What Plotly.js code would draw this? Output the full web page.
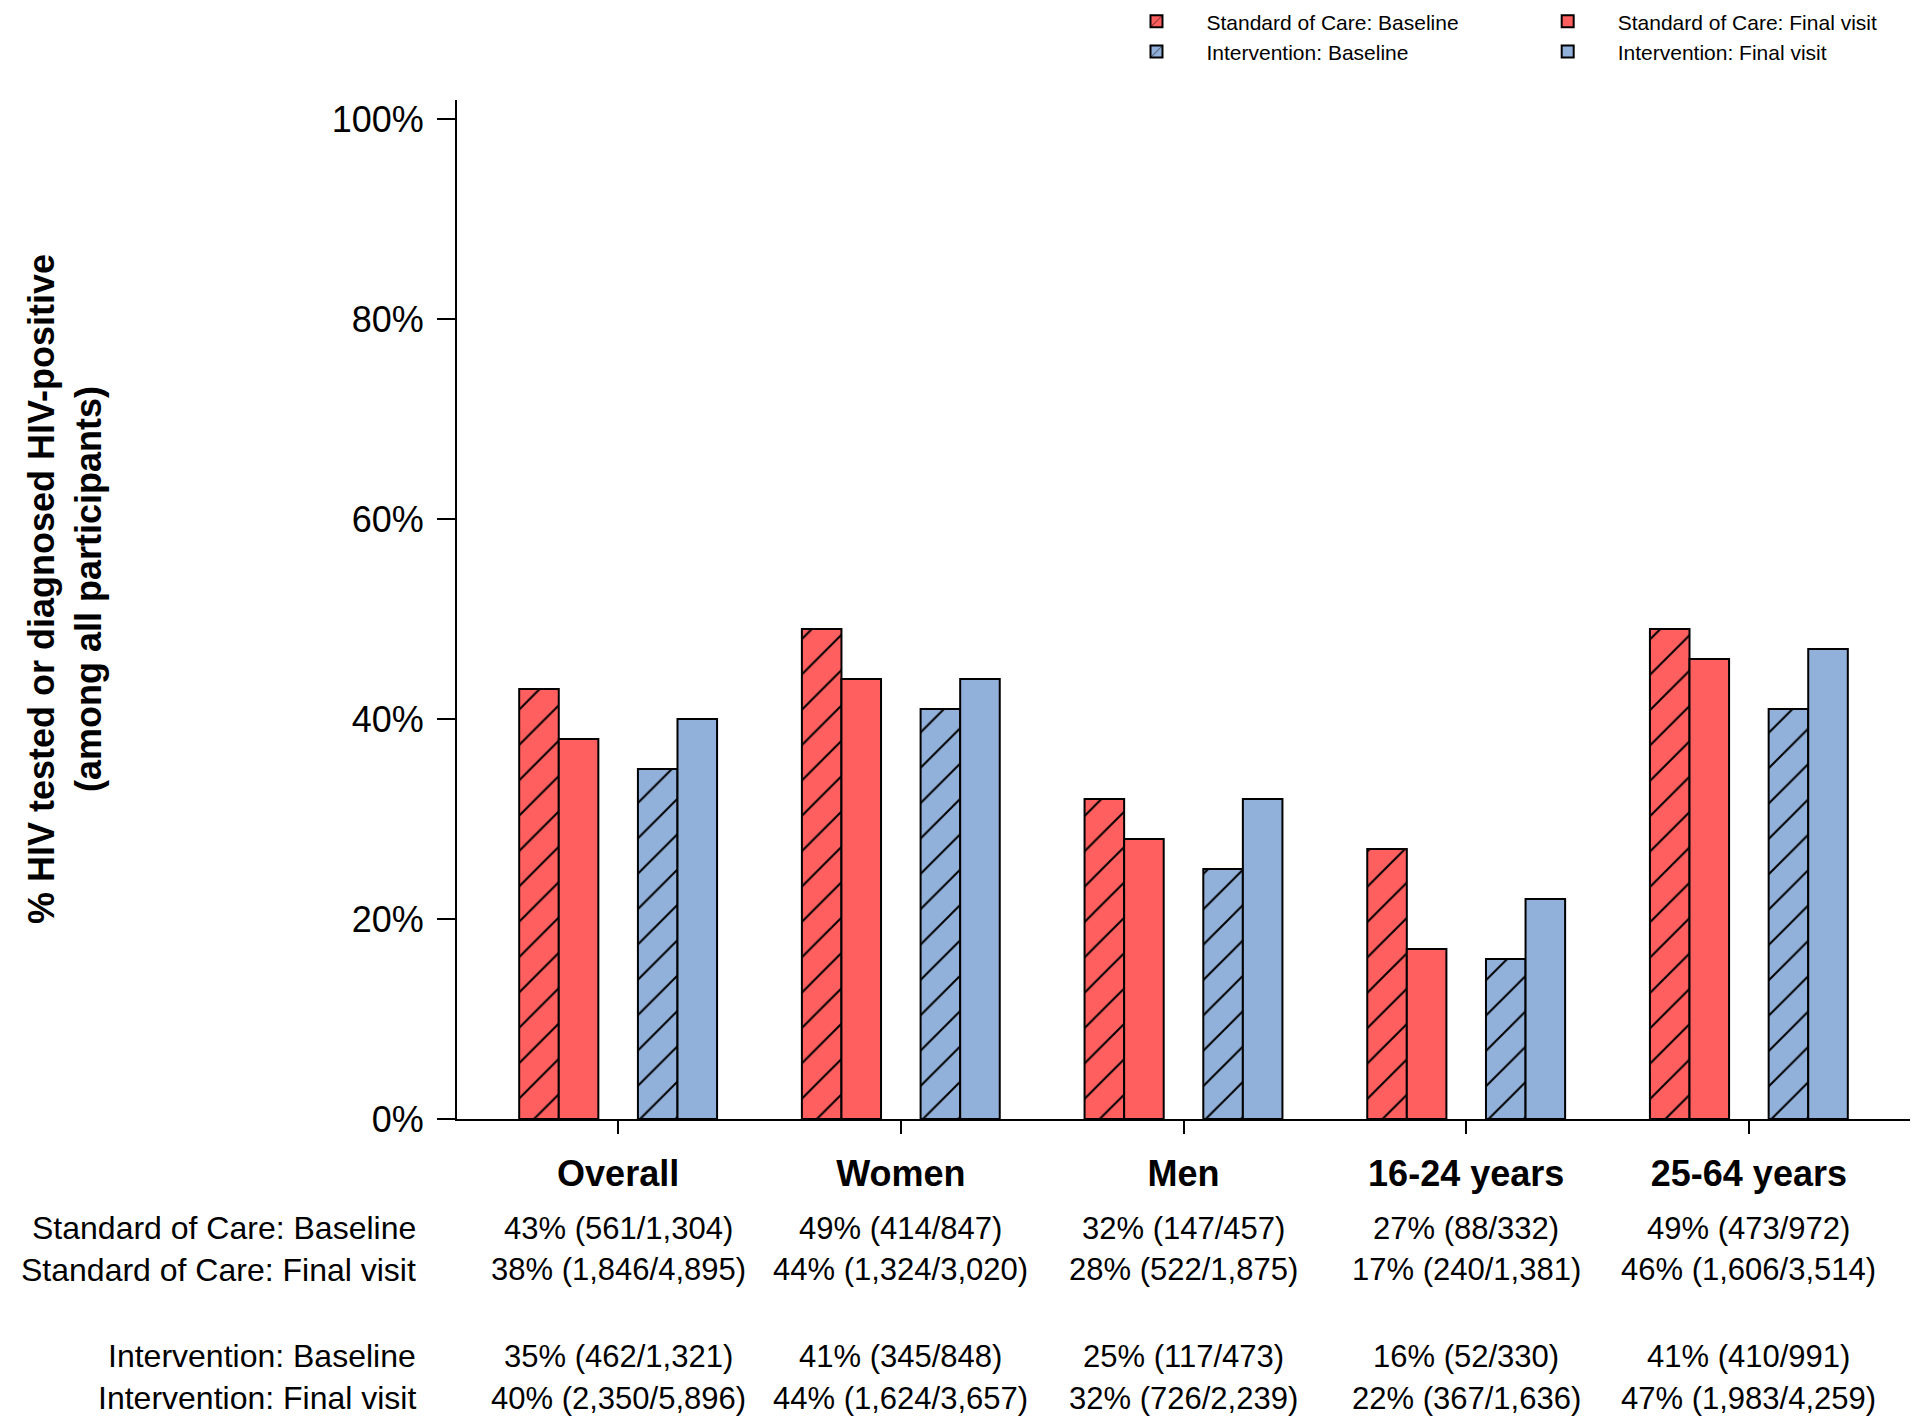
<!DOCTYPE html>
<html>
<head>
<meta charset="utf-8">
<script src="https://cdn.plot.ly/plotly-3.0.1.min.js"></script>
<style>
  body { margin: 0; background: #fff; }
  #hiv_chart { width: 1920px; height: 1424px; }
</style>
</head>
<body>
<div id="hiv_chart"></div>
<script>
var groups = ['Overall', 'Women', 'Men', '16-24 years', '25-64 years'];
var seriesNames = ['Standard of Care: Baseline', 'Standard of Care: Final visit',
                   'Intervention: Baseline', 'Intervention: Final visit'];

// percentages (bar heights)
var socBase = [43, 49, 32, 27, 49];
var socFinal = [38, 44, 28, 17, 46];
var intBase = [35, 41, 25, 16, 41];
var intFinal = [40, 44, 32, 22, 47];

// numerators / denominators for the table under the chart
var socBaseN = [561, 414, 147, 88, 473];
var socBaseD = [1304, 847, 457, 332, 972];
var socFinalN = [1846, 1324, 522, 240, 1606];
var socFinalD = [4895, 3020, 1875, 1381, 3514];
var intBaseN = [462, 345, 117, 52, 410];
var intBaseD = [1321, 848, 473, 330, 991];
var intFinalN = [2350, 1624, 726, 367, 1983];
var intFinalD = [5896, 3657, 2239, 1636, 4259];

var yTicks = [0, 20, 40, 60, 80, 100];
var yTickText = yTicks.map(function (t) { return t + '%'; });

var red = '#FF5F5F';
var blue = '#92B1DA';
var FONT = 'Liberation Sans, Arial, sans-serif';

var xIdx = groups.map(function (g, i) { return i; });

function makeBar(name, vals, color, hatch, offset, legendId) {
    return {
        x: xIdx,
        y: vals,
        type: 'bar',
        name: name,
        width: 0.14,
        offset: offset,
        legend: legendId,
        marker: {
            color: color,
            line: {color: '#000', width: 2},
            pattern: hatch ? {shape: '/', size: 25, solidity: 0.08, fgcolor: '#000', bgcolor: color, fillmode: 'replace'} : {shape: ''}
        },
        hoverinfo: 'y'
    };
}

var data = [
    makeBar(seriesNames[0], socBase, red, true, -0.35, 'legend'),
    makeBar(seriesNames[1], socFinal, red, false, -0.21, 'legend2'),
    makeBar(seriesNames[2], intBase, blue, true, 0.07, 'legend'),
    makeBar(seriesNames[3], intFinal, blue, false, 0.21, 'legend2')
];

function fmt(n) { return n.toLocaleString('en-US'); }

var rows = [
    {label: seriesNames[0], v: socBase, n: socBaseN, d: socBaseD, y: -0.107},
    {label: seriesNames[1], v: socFinal, n: socFinalN, d: socFinalD, y: -0.148},
    {label: seriesNames[2], v: intBase, n: intBaseN, d: intBaseD, y: -0.2326},
    {label: seriesNames[3], v: intFinal, n: intFinalN, d: intFinalD, y: -0.2738}
];

var annotations = [];
for (var r of rows) {
    annotations.push({
        xref: 'paper', yref: 'paper', x: -0.027, y: r.y,
        xanchor: 'right', yanchor: 'middle', showarrow: false,
        text: r.label, font: {family: FONT, size: 32, color: '#000'}
    });
    for (var i = 0; i < groups.length; i++) {
        annotations.push({
            xref: 'x', yref: 'paper', x: i, y: r.y,
            xanchor: 'center', yanchor: 'middle', showarrow: false,
            text: r.v[i] + '% (' + fmt(r.n[i]) + '/' + fmt(r.d[i]) + ')',
            font: {family: FONT, size: 31, color: '#000'}
        });
    }
}

// y axis title (two lines)
annotations.push({
    xref: 'paper', yref: 'paper', x: -0.2698, y: 0.52,
    xanchor: 'center', yanchor: 'middle', showarrow: false, textangle: -90,
    text: '% HIV tested or diagnosed HIV-positive<br>(among all participants)',
    font: {family: FONT, size: 36, weight: 'bold', color: '#000'}
});

var layout = {
    width: 1920,
    height: 1424,
    margin: {l: 457, r: 10, t: 100, b: 305, autoexpand: false},
    paper_bgcolor: '#fff',
    plot_bgcolor: '#fff',
    font: {family: FONT, color: '#000'},
    barmode: 'overlay',
    xaxis: {
        range: [-0.57, 4.57],
        tickvals: xIdx,
        ticktext: groups,
        tickfont: {family: FONT, size: 36, weight: 'bold', color: '#000'},
        showline: true, linecolor: '#000', linewidth: 2,
        ticks: 'outside', ticklen: 13, tickwidth: 2, tickcolor: '#000',
        ticklabelstandoff: 9,
        showgrid: false, zeroline: false, fixedrange: true
    },
    yaxis: {
        range: [0, 101.9],
        tickvals: yTicks,
        ticktext: yTickText,
        tickfont: {family: FONT, size: 36, color: '#000'},
        showline: true, linecolor: '#000', linewidth: 2,
        ticks: 'outside', ticklen: 18, tickwidth: 2, tickcolor: '#000',
        ticklabelstandoff: 6,
        showgrid: false, zeroline: false, fixedrange: true
    },
    legend: {
        x: 0.447, y: 1.097, xanchor: 'left', yanchor: 'top',
        orientation: 'v', itemwidth: 90, tracegroupgap: 0,
        font: {family: FONT, size: 21, color: '#000'},
        bgcolor: 'rgba(0,0,0,0)'
    },
    legend2: {
        x: 0.730, y: 1.097, xanchor: 'left', yanchor: 'top',
        orientation: 'v', itemwidth: 90, tracegroupgap: 0,
        font: {family: FONT, size: 21, color: '#000'},
        bgcolor: 'rgba(0,0,0,0)'
    },
    annotations: annotations,
    showlegend: true
};

Plotly.newPlot('hiv_chart', data, layout, {displayModeBar: false, displaylogo: false});
</script>
</body>
</html>
